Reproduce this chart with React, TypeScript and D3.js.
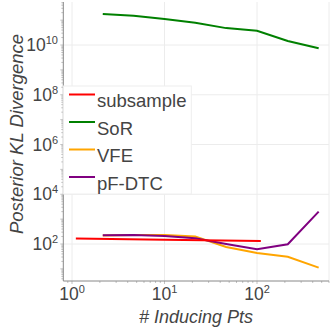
import React, { useEffect, useRef } from 'react';
import * as d3 from 'd3';

// x positions (number of inducing points), shared by the sparse methods
const inducingPts = [2.15, 4.64, 10, 21.5, 46.4, 100, 215, 464];
const subsampleX = [1.1, 10, 110];

// log10 of posterior KL divergence
const subsampleLog = [2.22, 2.17, 2.12];
const sorLog = [11.25, 11.18, 11.05, 10.9, 10.68, 10.57, 10.16, 9.87];
const vfeLog = [2.34, 2.36, 2.36, 2.3, 1.88, 1.64, 1.49, 1.05];
const pfdtcLog = [2.35, 2.36, 2.32, 2.23, 2.0, 1.79, 1.99, 3.3];

const seriesNames = ['subsample', 'SoR', 'VFE', 'pF-DTC'];
const seriesColors = ['#ff0000', '#008000', '#ffa500', '#800080'];

const xTicks = [0, 1, 2];
const yTicks = [2, 4, 6, 8, 10];

const App = () => {
    const svgRef = useRef<SVGSVGElement>(null);

    useEffect(() => {
        const svg = d3.select(svgRef.current);
        svg.selectAll("*").remove();

        const x = d3.scaleLog().domain([0.805, 600]).range([63.3, 329]);
        const y = d3.scaleLog().domain([Math.pow(10, 0.513), Math.pow(10, 11.73)]).range([281, 2]);
        const [x0, x1] = x.range();
        const [y0, y1] = y.range();
        const font = "'Liberation Sans', Arial, sans-serif";

        // grid
        const grid = svg.append("g").attr("stroke", "#ececec").attr("stroke-width", 1);
        xTicks.forEach(e => {
            grid.append("line").attr("x1", x(10 ** e)).attr("x2", x(10 ** e)).attr("y1", y1).attr("y2", y0);
        });
        yTicks.forEach(e => {
            grid.append("line").attr("x1", x0).attr("x2", x1).attr("y1", y(10 ** e)).attr("y2", y(10 ** e));
        });
        grid.append("line").attr("x1", x1).attr("x2", x1).attr("y1", y1).attr("y2", y0);

        // minor ticks
        const minor = svg.append("g").attr("stroke", "#999").attr("stroke-width", 0.6);
        for (let e = -1; e <= 3; e++) {
            for (let m = 1; m <= 9; m++) {
                const v = m * 10 ** e;
                if (v < 0.805 || v > 600) continue;
                minor.append("line").attr("x1", x(v)).attr("x2", x(v)).attr("y1", y0).attr("y2", y0 + (m === 1 ? 3 : 2));
            }
        }
        for (let e = 0; e <= 11; e++) {
            for (let m = 1; m <= 9; m++) {
                const v = m * 10 ** e;
                if (Math.log10(v) < 0.513 || Math.log10(v) > 11.73) continue;
                minor.append("line").attr("x1", x0).attr("x2", x0 - (m === 1 ? 3 : 2)).attr("y1", y(v)).attr("y2", y(v));
            }
        }

        // axis lines
        svg.append("path")
            .attr("d", `M${x0},${y1}V${y0}H${x1}`)
            .attr("fill", "none")
            .attr("stroke", "#888")
            .attr("stroke-width", 1);

        // tick labels
        xTicks.forEach(e => {
            const t = svg.append("text")
                .attr("x", x(10 ** e))
                .attr("y", 300)
                .attr("text-anchor", "middle")
                .attr("font-family", font)
                .attr("font-size", 17.5)
                .attr("fill", "#444");
            t.append("tspan").text("10");
            t.append("tspan").attr("font-size", 11).attr("dy", -7).text(String(e));
        });
        yTicks.forEach(e => {
            const t = svg.append("text")
                .attr("x", 58)
                .attr("y", y(10 ** e) + 6)
                .attr("text-anchor", "end")
                .attr("font-family", font)
                .attr("font-size", 17.5)
                .attr("fill", "#444");
            t.append("tspan").text("10");
            t.append("tspan").attr("font-size", 11).attr("dy", -7).text(String(e));
        });

        // axis titles
        svg.append("text")
            .attr("transform", `translate(23,134) rotate(-90)`)
            .attr("text-anchor", "middle")
            .attr("font-family", font)
            .attr("font-style", "italic")
            .attr("font-size", 18.5)
            .attr("fill", "#444")
            .text("Posterior KL Divergence");
        svg.append("text")
            .attr("x", 196)
            .attr("y", 323)
            .attr("text-anchor", "middle")
            .attr("font-family", font)
            .attr("font-style", "italic")
            .attr("font-size", 18)
            .attr("fill", "#444")
            .text("# Inducing Pts");

        // lines
        const line = d3.line<[number, number]>()
            .x(d => x(d[0]))
            .y(d => y(10 ** d[1]));
        const series: [number, number][][] = [
            subsampleX.map((v, i) => [v, subsampleLog[i]]),
            inducingPts.map((v, i) => [v, sorLog[i]]),
            inducingPts.map((v, i) => [v, vfeLog[i]]),
            inducingPts.map((v, i) => [v, pfdtcLog[i]]),
        ];
        const drawOrder = [1, 2, 3, 0];
        drawOrder.forEach(i => {
            svg.append("path")
                .attr("d", line(series[i]))
                .attr("fill", "none")
                .attr("stroke", seriesColors[i])
                .attr("stroke-width", 2);
        });

        // legend
        const lg = svg.append("g");
        lg.append("rect")
            .attr("x", x0)
            .attr("y", 86)
            .attr("width", 128)
            .attr("height", 108)
            .attr("fill", "#fff")
            .attr("stroke", "#eee");
        seriesNames.forEach((name, i) => {
            const ly = 94.5 + i * 27.5;
            lg.append("line")
                .attr("x1", 69).attr("x2", 95)
                .attr("y1", ly).attr("y2", ly)
                .attr("stroke", seriesColors[i])
                .attr("stroke-width", 2);
            lg.append("text")
                .attr("x", 97)
                .attr("y", ly + 12.5)
                .attr("font-family", font)
                .attr("font-size", 18.5)
                .attr("fill", "#444")
                .text(name);
        });
    }, []);

    return (
        <svg ref={svgRef} width={331} height={331}
            style={{ position: 'absolute', left: 0, top: 0, background: '#fff' }} />
    );
};

export default App;
